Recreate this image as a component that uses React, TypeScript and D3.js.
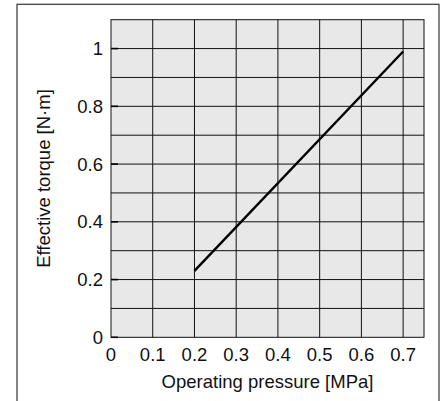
import React from "react";
import * as d3 from "d3";

const pressure = [0.2, 0.7];
const torque = [0.23, 0.99];
const xTicks = [0, 0.1, 0.2, 0.3, 0.4, 0.5, 0.6, 0.7];
const xGrid = [0.1, 0.2, 0.3, 0.4, 0.5, 0.6, 0.7];
const yTicks = [0, 0.2, 0.4, 0.6, 0.8, 1];
const yGrid = [0.1, 0.2, 0.3, 0.4, 0.5, 0.6, 0.7, 0.8, 0.9, 1.0];
const xTitle = "Operating pressure [MPa]";
const yTitle = "Effective torque [N·m]";

const W = 446;
const H = 401;
const left = 111;
const right = 424;
const top = 19.7;
const bottom = 337.3;
const font = "'Liberation Sans', Arial, Helvetica, sans-serif";

export default function App() {
  const x = d3.scaleLinear().domain([0, 0.75]).range([left, right]);
  const y = d3.scaleLinear().domain([0, 1.1]).range([bottom, top]);
  const line = d3
    .line<number>()
    .x((_, i) => x(pressure[i]))
    .y((d) => y(d));
  const fmt = (v: number) => (v === 0 ? "0" : v === 1 ? "1" : String(v));

  return (
    <svg
      width={W}
      height={H}
      style={{ position: "absolute", left: 0, top: 0, background: "#fff" }}
      fontFamily={font}
    >
      <rect x={17} y={4.3} width={422} height={420} fill="#fff" stroke="#444" strokeWidth={1.3} />
      <rect x={left} y={top} width={right - left} height={bottom - top} fill="#e8e8e8" />
      {xGrid.map((v) => (
        <line key={"gx" + v} x1={x(v)} x2={x(v)} y1={top} y2={bottom} stroke="#111" strokeWidth={1} />
      ))}
      {yGrid.map((v) => (
        <line key={"gy" + v} x1={left} x2={right} y1={y(v)} y2={y(v)} stroke="#111" strokeWidth={1} />
      ))}
      {yTicks.map((v) => (
        <line key={"tk" + v} x1={left} x2={left + 7} y1={y(v)} y2={y(v)} stroke="#000" strokeWidth={1.6} />
      ))}
      <rect x={left} y={top} width={right - left} height={bottom - top} fill="none" stroke="#111" strokeWidth={1} />
      <path d={line(torque) || ""} fill="none" stroke="#000" strokeWidth={2.4} />
      {yTicks.map((v) => (
        <text key={"yl" + v} x={103} y={y(v)} textAnchor="end" dominantBaseline="central" fontSize={18.5} fill="#111">
          {fmt(v)}
        </text>
      ))}
      {xTicks.map((v) => (
        <text key={"xl" + v} x={x(v)} y={361} textAnchor="middle" fontSize={18.5} fill="#111">
          {fmt(v)}
        </text>
      ))}
      <text x={(left + right) / 2} y={388} textAnchor="middle" fontSize={18.5} fill="#111">
        {xTitle}
      </text>
      <text
        transform={`translate(49.5, ${(top + bottom) / 2}) rotate(-90)`}
        textAnchor="middle"
        fontSize={18.5}
        fill="#111"
      >
        {yTitle}
      </text>
    </svg>
  );
}
